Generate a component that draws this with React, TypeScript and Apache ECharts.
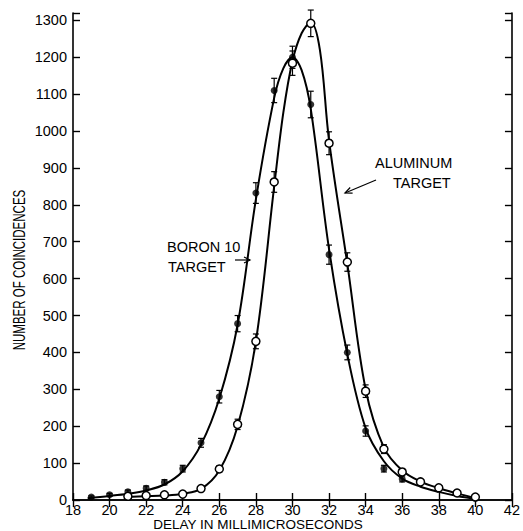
import React, { useEffect, useRef } from "react";
import * as echarts from "echarts";

// Measured points (filled circles): Boron 10 target
const boronDelays = [19, 20, 21, 22, 23, 24, 25, 26, 27, 28, 29, 30, 31, 32, 33, 34, 35, 36];
const boronCounts = [8, 14, 22, 32, 48, 85, 155, 280, 478, 832, 1110, 1200, 1072, 665, 400, 187, 85, 57];
const boronErrors = [3, 4, 5, 6, 7, 9, 12, 17, 22, 28, 33, 30, 36, 26, 20, 14, 9, 8];

// Measured points (open circles): Aluminum target
const aluminumDelays = [21, 22, 23, 24, 25, 26, 27, 28, 29, 30, 31, 32, 33, 34, 35, 36, 37, 38, 39, 40];
const aluminumCounts = [10, 12, 14, 16, 31, 84, 205, 430, 862, 1184, 1292, 967, 645, 295, 138, 76, 49, 33, 19, 8];
const aluminumErrors = [3, 3, 4, 4, 5, 9, 14, 20, 28, 33, 36, 31, 25, 17, 12, 9, 7, 6, 4, 3];

// Fitted curves
const boronCurveX = [18.8, 20, 21, 22, 23, 24, 25, 26, 27, 28, 29, 29.5, 30, 30.5, 31, 32, 33, 34, 35, 36, 37, 38, 39, 40];
const boronCurveY = [5, 11, 17, 26, 42, 78, 150, 275, 475, 815, 1090, 1170, 1200, 1165, 1060, 680, 395, 195, 105, 58, 36, 22, 11, 3];
const aluminumCurveX = [20.9, 22, 23, 24, 25, 26, 27, 28, 29, 29.5, 30, 30.5, 31, 31.5, 32, 33, 34, 35, 36, 37, 38, 39, 40];
const aluminumCurveY = [8, 10, 12, 17, 30, 80, 200, 430, 850, 1050, 1190, 1265, 1295, 1220, 975, 640, 300, 142, 80, 50, 32, 18, 5];

const xMin = 18;
const xMax = 42;
const xStep = 2;
const yMin = 0;
const yMax = 1320;
const yStep = 100;

const FONT = "'Liberation Sans', Arial, sans-serif";

function zip(xs: number[], ys: number[], es?: number[]) {
  return xs.map((x, i) => (es ? [x, ys[i], es[i]] : [x, ys[i]]));
}

function errorBars(data: number[][]) {
  return {
    type: "custom",
    data,
    encode: { x: 0, y: 1 },
    z: 3,
    renderItem: (params: any, api: any) => {
      const x = api.value(0);
      const y = api.value(1);
      const e = api.value(2);
      const top = api.coord([x, y + e]);
      const bot = api.coord([x, y - e]);
      const hw = 3;
      const st = { stroke: "#000", lineWidth: 1.2 };
      return {
        type: "group",
        children: [
          { type: "line", shape: { x1: top[0], y1: top[1], x2: bot[0], y2: bot[1] }, style: st },
          { type: "line", shape: { x1: top[0] - hw, y1: top[1], x2: top[0] + hw, y2: top[1] }, style: st },
          { type: "line", shape: { x1: bot[0] - hw, y1: bot[1], x2: bot[0] + hw, y2: bot[1] }, style: st },
        ],
      };
    },
  };
}

export default function App() {
  const ref = useRef<HTMLDivElement>(null);
  useEffect(() => {
    if (!ref.current) return;
    const chart = echarts.init(ref.current, undefined, { renderer: "svg" });
    const axisLine = { show: true, lineStyle: { color: "#000", width: 1.6 } };
    const tick = { show: true, inside: true, length: 7, lineStyle: { color: "#000", width: 1.4 } };
    const label = { color: "#000", fontSize: 14.5, fontFamily: FONT, lineHeight: 14 };
    chart.setOption({
      animation: false,
      backgroundColor: "#fff",
      grid: { left: 73, right: 3, top: 13, bottom: 31 },
      xAxis: [
        {
          type: "value", min: xMin, max: xMax, interval: xStep, position: "bottom",
          axisLine, axisTick: tick, splitLine: { show: false },
          axisLabel: { ...label, margin: 3 },
        },
        {
          type: "value", min: xMin, max: xMax, interval: xStep, position: "top",
          axisLine, axisTick: tick, splitLine: { show: false }, axisLabel: { show: false },
        },
      ],
      yAxis: [
        {
          type: "value", min: yMin, max: yMax, interval: yStep, position: "left",
          axisLine, axisTick: tick, splitLine: { show: false },
          axisLabel: { ...label, margin: 6, formatter: (v: number) => (v % 100 === 0 ? String(v) : "") },
        },
        {
          type: "value", min: yMin, max: yMax, interval: yStep, position: "right",
          axisLine, axisTick: tick, splitLine: { show: false }, axisLabel: { show: false },
        },
      ],
      series: [
        {
          type: "line", data: zip(boronCurveX, boronCurveY), smooth: 0.35, showSymbol: false,
          lineStyle: { color: "#000", width: 2 }, z: 2,
        },
        {
          type: "line", data: zip(aluminumCurveX, aluminumCurveY), smooth: 0.35, showSymbol: false,
          lineStyle: { color: "#000", width: 2 }, z: 2,
        },
        errorBars(zip(boronDelays, boronCounts, boronErrors) as number[][]),
        errorBars(zip(aluminumDelays, aluminumCounts, aluminumErrors) as number[][]),
        {
          type: "scatter", data: zip(boronDelays, boronCounts), symbol: "circle", symbolSize: 7,
          itemStyle: { color: "#000" }, z: 4,
        },
        {
          type: "scatter", data: zip(aluminumDelays, aluminumCounts), symbol: "circle", symbolSize: 8,
          itemStyle: { color: "#fff", borderColor: "#000", borderWidth: 1.5, opacity: 1 }, z: 5,
        },
      ],
      graphic: [
        {
          type: "text", x: 19, y: 270, rotation: Math.PI / 2, scaleX: 0.72,
          style: { text: "NUMBER OF COINCIDENCES", font: `16px ${FONT}`, fill: "#000", align: "center", verticalAlign: "middle" },
        },
        {
          type: "text", x: 258, y: 524.5,
          style: { text: "DELAY IN MILLIMICROSECONDS", font: `13.5px ${FONT}`, lineHeight: 13, fill: "#000", align: "center", verticalAlign: "middle" },
        },
        {
          type: "text", x: 167, y: 247,
          style: { text: "BORON 10", font: `14.5px ${FONT}`, fill: "#000", align: "left", verticalAlign: "middle" },
        },
        {
          type: "text", x: 168, y: 267,
          style: { text: "TARGET", font: `14.5px ${FONT}`, fill: "#000", align: "left", verticalAlign: "middle" },
        },
        { type: "line", shape: { x1: 235, y1: 260, x2: 250, y2: 260 }, style: { stroke: "#000", lineWidth: 1.2 } },
        { type: "polyline", shape: { points: [[244, 257], [250, 260], [244, 263]] }, style: { stroke: "#000", lineWidth: 1.2, fill: "none" } },
        {
          type: "text", x: 375, y: 163,
          style: { text: "ALUMINUM", font: `14.5px ${FONT}`, fill: "#000", align: "left", verticalAlign: "middle" },
        },
        {
          type: "text", x: 393, y: 183,
          style: { text: "TARGET", font: `14.5px ${FONT}`, fill: "#000", align: "left", verticalAlign: "middle" },
        },
        { type: "line", shape: { x1: 376, y1: 180, x2: 345, y2: 193 }, style: { stroke: "#000", lineWidth: 1.2 } },
        { type: "polyline", shape: { points: [[350.2, 187.5], [345, 193], [352.6, 193.1]] }, style: { stroke: "#000", lineWidth: 1.2, fill: "none" } },
      ],
    });
    return () => chart.dispose();
  }, []);
  return (
    <div
      ref={ref}
      style={{ position: "fixed", left: 0, top: 0, width: 523, height: 531, background: "#fff" }}
    />
  );
}
